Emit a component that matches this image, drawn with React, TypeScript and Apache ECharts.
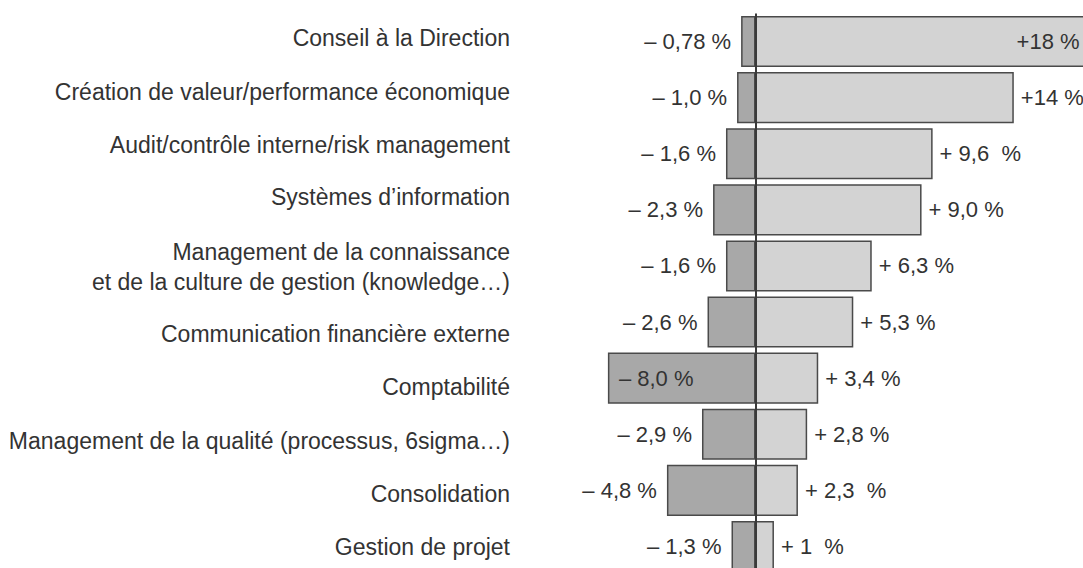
import React, { useEffect, useRef } from "react";
import * as echarts from "echarts";

const categories = [
  "Conseil à la Direction",
  "Création de valeur/performance économique",
  "Audit/contrôle interne/risk management",
  "Systèmes d’information",
  "Management de la connaissance\net de la culture de gestion (knowledge…)",
  "Communication financière externe",
  "Comptabilité",
  "Management de la qualité (processus, 6sigma…)",
  "Consolidation",
  "Gestion de projet",
];

const negativeValues = [-0.78, -1.0, -1.6, -2.3, -1.6, -2.6, -8.0, -2.9, -4.8, -1.3];
const positiveValues = [18, 14, 9.6, 9.0, 6.3, 5.3, 3.4, 2.8, 2.3, 1];

const negativeLabels = ["– 0,78 %", "– 1,0 %", "– 1,6 %", "– 2,3 %", "– 1,6 %", "– 2,6 %", "– 8,0 %", "– 2,9 %", "– 4,8 %", "– 1,3 %"];
const positiveLabels = ["+18 %", "+14 %", "+ 9,6  %", "+ 9,0 %", "+ 6,3 %", "+ 5,3 %", "+ 3,4 %", "+ 2,8 %", "+ 2,3  %", "+ 1  %"];

// layout style: vertical nudge (px) of each category label relative to its bar
const LABEL_NUDGE = [-3.5, -6, -8.5, -13, 1, 12, 9, 7, 3.5, 0.5];

const FONT = "'Liberation Sans', Arial, Helvetica, sans-serif";
const TEXT = "#333333";

export default function App() {
  const ref = useRef<HTMLDivElement>(null);

  useEffect(() => {
    if (!ref.current) return;
    const chart = echarts.init(ref.current, null, { renderer: "svg" });

    const rich: Record<string, any> = {};
    LABEL_NUDGE.forEach((d, i) => {
      const p = Math.abs(d) * 2;
      rich["n" + i] = {
        fontSize: 23,
        lineHeight: 30,
        color: TEXT,
        fontFamily: FONT,
        align: "right",
        padding: d < 0 ? [0, 0, p, 0] : [p, 0, 0, 0],
      };
    });

    const negData = negativeValues.map((v, i) => ({
      value: v,
      label: {
        position: Math.abs(v) > 6 ? "insideLeft" : "left",
        distance: Math.abs(v) > 6 ? 11 : 10,
        formatter: () => negativeLabels[i],
      },
    }));
    const posData = positiveValues.map((v, i) => ({
      value: v,
      label: {
        position: v > 16 ? "insideRight" : "right",
        distance: v > 16 ? 8 : 7,
        formatter: () => positiveLabels[i],
      },
    }));

    chart.setOption({
      animation: false,
      backgroundColor: "#ffffff",
      grid: { left: 571, right: 0.5, top: 13.5, bottom: 0.5, containLabel: false },
      xAxis: {
        type: "value",
        min: -10,
        max: 20,
        show: false,
        splitLine: { show: false },
      },
      yAxis: {
        type: "category",
        data: categories,
        inverse: true,
        axisLine: { show: false },
        axisTick: { show: false },
        axisLabel: {
          margin: 61,
          fontSize: 23,
          lineHeight: 30,
          color: TEXT,
          fontFamily: FONT,
          align: "right",
          formatter: (value: string, idx: number) =>
            value
              .split("\n")
              .map((line) => `{n${idx}|${line}}`)
              .join("\n"),
          rich,
        },
      },
      series: [
        {
          name: "neg",
          type: "bar",
          data: negData,
          barCategoryGap: "9%",
          barGap: "-100%",
          itemStyle: { color: "#a8a8a8", borderColor: "#4a4a4a", borderWidth: 1.5 },
          label: { show: true, color: TEXT, fontSize: 22, fontFamily: FONT },
        },
        {
          name: "pos",
          type: "bar",
          data: posData,
          barCategoryGap: "9%",
          barGap: "-100%",
          itemStyle: { color: "#d3d3d3", borderColor: "#4a4a4a", borderWidth: 1.5 },
          label: { show: true, color: TEXT, fontSize: 22, fontFamily: FONT },
          markLine: {
            silent: true,
            symbol: "none",
            label: { show: false },
            lineStyle: { color: "#3a3a3a", width: 2, type: "solid" },
            data: [{ xAxis: 0 }],
          },
        },
      ],
    });

    return () => chart.dispose();
  }, []);

  return (
    <div
      style={{
        position: "absolute",
        left: 0,
        top: 0,
        width: 1083,
        height: 568,
        overflow: "hidden",
        background: "#fff",
      }}
    >
      <div ref={ref} style={{ width: 1125, height: 575 }} />
    </div>
  );
}
